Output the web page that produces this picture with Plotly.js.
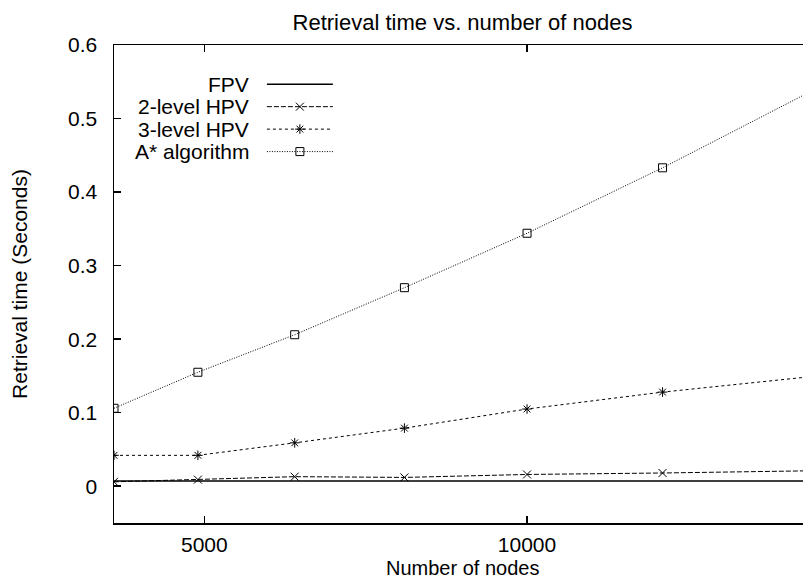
<!DOCTYPE html>
<html>
<head>
<meta charset="utf-8">
<script src="https://cdn.plot.ly/plotly-3.0.1.min.js"></script>
<style>
html, body { margin: 0; padding: 0; overflow: hidden; background: #fff; }
#chart { width: 812px; height: 579px; }
</style>
</head>
<body>
<div id="chart"></div>
<script>
// ---- data ----
const nodes = [3600, 4900, 6400, 8100, 10000, 12100, 14400];
const fpv   = [0.007, 0.007, 0.007, 0.007, 0.007, 0.007, 0.007];
const hpv2  = [0.006, 0.009, 0.013, 0.012, 0.016, 0.018, 0.021];
const hpv3  = [0.042, 0.042, 0.059, 0.079, 0.105, 0.128, 0.149];
const astar = [0.106, 0.155, 0.206, 0.270, 0.344, 0.433, 0.537];
const seriesNames = ['FPV', '2-level HPV', '3-level HPV', 'A* algorithm'];
const xTickVals = [5000, 10000];
const xTickText = ['5000', '10000'];
const yTickVals = [0, 0.1, 0.2, 0.3, 0.4, 0.5, 0.6];
const yTickText = ['0', '0.1', '0.2', '0.3', '0.4', '0.5', '0.6'];
const chartTitle = 'Retrieval time vs. number of nodes';
const xTitle = 'Number of nodes';
const yTitle = 'Retrieval time (Seconds)';

// ---- styles ----
const FONT = 'Liberation Sans, Arial, Helvetica, sans-serif';
const styles = [
  { dash: 'solid',     width: 1.5, symbol: null },
  { dash: '5px,2px',   width: 1,   symbol: 'x-thin-open' },
  { dash: '3px,3px',   width: 1,   symbol: 'asterisk-open' },
  { dash: '1px,1.5px', width: 1,   symbol: 'square-open' }
];
const seriesY = [fpv, hpv2, hpv3, astar];

const traces = seriesY.map((ys, i) => {
  const st = styles[i];
  const t = {
    type: 'scatter',
    x: nodes, y: ys, name: seriesNames[i],
    mode: st.symbol ? 'lines+markers' : 'lines',
    line: { color: '#000', width: st.width, dash: st.dash },
    showlegend: false, hoverinfo: 'skip', cliponaxis: true
  };
  if (st.symbol) {
    t.marker = { symbol: st.symbol, size: 8, color: '#000',
                 line: { color: '#000', width: 1 } };
  }
  return t;
});

// ---- custom legend (text left, key right) on a hidden overlay axis ----
const legRows = [0.918, 0.871, 0.824, 0.777];
const legKeyX = [0.2194, 0.2667, 0.314];
const legTextX = 0.1964;
seriesNames.forEach((nm, i) => {
  const st = styles[i];
  traces.push({
    type: 'scatter', xaxis: 'x2', yaxis: 'y2',
    x: legKeyX, y: [legRows[i], legRows[i], legRows[i]],
    mode: 'lines', line: { color: '#000', width: st.width, dash: st.dash },
    showlegend: false, hoverinfo: 'skip'
  });
  if (st.symbol) {
    traces.push({
      type: 'scatter', xaxis: 'x2', yaxis: 'y2',
      x: [legKeyX[1]], y: [legRows[i]], mode: 'markers',
      marker: { symbol: st.symbol, size: 8, color: '#000', line: { color: '#000', width: 1 } },
      showlegend: false, hoverinfo: 'skip'
    });
  }
});

const annotations = seriesNames.map((nm, i) => ({
  xref: 'paper', yref: 'paper', x: legTextX, y: legRows[i],
  xanchor: 'right', yanchor: 'middle', showarrow: false,
  text: nm, font: { family: FONT, size: 21, color: '#000' }
}));
// x-axis title placed as an annotation so it can sit near the bottom edge
annotations.push({
  xref: 'paper', yref: 'paper', x: 0.5, y: -0.0941,
  xanchor: 'center', yanchor: 'middle', showarrow: false,
  text: xTitle, font: { family: FONT, size: 20, color: '#000' }
});

const axisCommon = {
  showline: true, linecolor: '#000', linewidth: 1.5, mirror: 'ticks',
  ticks: 'inside', ticklen: 7, tickwidth: 1.5, tickcolor: '#000',
  showgrid: false, zeroline: false,
  tickfont: { family: FONT, size: 21, color: '#000' }
};

const layout = {
  width: 812, height: 579, autosize: false,
  margin: { l: 114, r: 0.5, t: 45, b: 56 },
  paper_bgcolor: '#fff', plot_bgcolor: '#fff',
  font: { family: FONT, color: '#000' },
  title: { text: chartTitle, font: { family: FONT, size: 22, color: '#000' },
           x: 0.5, xref: 'paper', xanchor: 'center', y: 0.962, yref: 'container', yanchor: 'middle' },
  xaxis: Object.assign({}, axisCommon, {
    range: [3600, 14400], tickvals: xTickVals, ticktext: xTickText,
    ticklabelstandoff: 2
  }),
  yaxis: Object.assign({}, axisCommon, {
    range: [-0.05, 0.6], tickvals: yTickVals, ticktext: yTickText,
    ticklabelstandoff: 11,
    title: { text: yTitle, font: { family: FONT, size: 21, color: '#000' }, standoff: 34 }
  }),
  xaxis2: { overlaying: 'x', range: [0, 1], visible: false, fixedrange: true },
  yaxis2: { overlaying: 'y', range: [0, 1], visible: false, fixedrange: true },
  annotations: annotations,
  showlegend: false
};

Plotly.newPlot('chart', traces, layout, { staticPlot: true, displayModeBar: false });
</script>
</body>
</html>
